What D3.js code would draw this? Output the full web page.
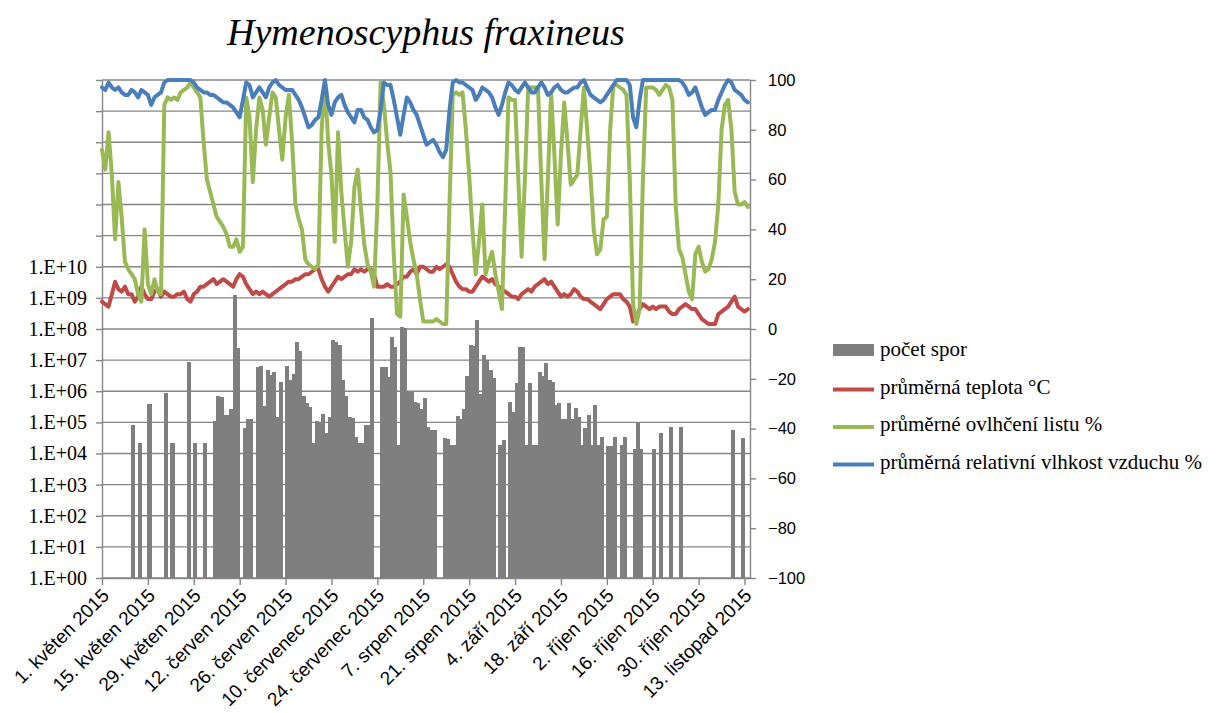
<!DOCTYPE html>
<html><head><meta charset="utf-8">
<script src="https://cdn.jsdelivr.net/npm/d3@7"></script>
<style>body{margin:0;background:#fff}</style>
</head><body><svg id="c" width="1225" height="713"></svg>
<script>
const title = "Hymenoscyphus fraxineus";
// daily data from 1 May 2015 (index 0) to 14 Nov 2015 (index 197)
const spores = [
 0,0,0,0,0,0,0,0,0,8.3e4,
 0,2.2e4,0,0,3.8e5,0,0,0,0,8.5e5,
 0,2.2e4,0,0,0,0,8.5e6,0,2.2e4,0,
 0,2.2e4,0,0,1.1e5,6.8e5,6.5e5,1.7e5,1.7e5,2.6e5,
 1.2e9,2.4e7,0,6.5e4,1.3e5,1.3e5,0,6.2e6,6.3e6,3.4e5,
 4.8e6,3.3e6,4.3e6,1.5e5,2.0e6,0,6.5e6,2.3e6,3.7e6,3.9e7,
 1.9e7,7.1e5,4.3e5,3.2e5,2.2e4,1.1e5,9.3e4,1.9e5,4.7e4,1.5e5,
 4.5e7,3.9e7,3.1e7,2.3e6,6.8e5,1.5e5,1.4e5,3.5e4,2.2e4,2.2e4,
 8.3e4,8.3e4,2.2e8,0,0,6.2e6,6.0e6,2.8e6,5.6e7,2.7e7,
 1.9e4,1.2e8,1.1e8,9.8e5,9.8e5,4.5e5,4.1e5,2.6e5,5.9e5,7.2e4,
 5.8e4,5.8e4,0,0,3.2e4,3.0e4,1.9e4,1.9e4,1.6e5,1.3e5,
 2.6e5,3.0e6,3.1e7,2.8e7,1.9e8,8.1e5,1.5e7,1.0e7,4.8e6,2.6e6,
 0,1.9e4,2.7e4,0,4.6e5,2.2e5,1.8e6,2.6e7,2.6e7,1.9e4,
 1.8e6,1.9e4,1.9e4,4.3e6,3.0e6,7.9e6,2.3e6,2.0e6,3.6e5,4.1e5,
 1.3e5,1.3e5,4.1e5,1.3e5,2.8e5,1.5e5,1.9e4,6.5e4,1.7e5,1.9e4,
 3.6e5,1.9e4,3.5e4,0,1.7e4,1.7e4,3.5e4,0,1.9e4,3.5e4,
 0,0,1.4e4,9.3e4,1.4e4,0,0,0,1.4e4,0,
 4.7e4,0,0,7.2e4,0,0,7.2e4,0,0,0,
 0,0,0,0,0,0,0,0,0,0,
 0,0,5.8e4,0,0,3.2e4,0,0
];
const temperature = [
 11,10,9,14,19,16,15,17,14,14,
 11,13,17,14,12,12,15,16,13,15,
 14,13,13,14,14,15,12,11,14,15,
 17,17,18,19,20,18,19,20,19,18,
 17,20,22,21,18,16,14,15,14,15,
 14,13,14,15,16,17,18,19,19,20,
 20,21,22,22,23,24,24,20,17,15,
 17,19,21,20,21,22,22,24,23,24,
 23,24,24,22,17,17,17,18,17,17,
 18,19,21,21,23,24,22,25,25,24,
 23,23,25,24,25,26,25,22,19,17,
 16,16,15,15,17,19,21,20,19,20,
 18,17,16,15,14,13,13,12,14,15,
 16,15,17,18,19,20,18,19,17,15,
 13,14,13,14,16,15,13,12,12,11,
 10,9,8,10,12,13,14,14,14,12,
 11,9,3,5,8,10,9,8,9,8,
 9,9,9,7,6,6,8,9,10,9,
 8,8,6,4,3,2,2,2,6,7,
 8,9,11,13,9,8,7,8
];
const leafWetness = [
 72,64,79,62,36,59,45,27,24,22,
 20,14,11,40,18,14,20,15,14,90,
 93,92,93,92,95,96,97,99,97,95,
 93,75,60,55,50,45,43,41,38,33,
 33,36,31,33,93,85,59,80,93,88,
 74,85,95,93,80,68,85,94,75,50,
 44,40,28,26,25,24,26,80,99,75,
 62,35,79,55,40,25,35,57,64,48,
 34,26,23,17,50,99,90,75,63,30,
 6,5,54,45,35,28,22,12,3,3,
 3,3,4,3,2,2,50,94,95,94,
 95,80,62,40,22,35,50,22,27,31,
 22,15,8,50,93,92,92,60,29,60,
 97,97,97,97,60,28,60,95,70,42,
 70,91,75,58,60,62,80,97,80,62,
 40,30,32,44,45,80,98,98,97,96,
 94,60,10,2,8,60,97,97,97,96,
 94,96,98,97,92,50,32,29,22,15,
 12,30,33,27,23,24,28,35,50,80,
 90,92,80,55,50,50,51,49
];
const humidity = [
 97,96,99,97,96,97,95,94,94,96,
 95,93,96,95,94,90,93,94,95,99,
 100,100,100,100,100,100,100,100,99,97,
 96,95,95,94,94,93,92,91,91,90,
 89,87,85,92,99,98,93,95,97,95,
 93,97,99,100,98,97,96,96,96,94,
 92,89,85,81,82,84,85,92,100,90,
 86,91,93,94,90,87,85,83,88,88,
 85,84,81,79,80,88,99,98,98,92,
 85,78,86,93,91,88,86,82,78,74,
 75,76,74,71,69,72,88,99,100,99,
 99,98,97,96,92,94,97,96,95,93,
 89,86,90,95,99,98,96,95,97,99,
 97,95,95,97,99,97,94,95,97,98,
 96,95,95,96,97,97,99,100,97,94,
 93,92,91,92,94,96,98,100,100,100,
 100,98,85,81,92,100,100,100,100,100,
 100,100,100,100,100,100,100,99,97,94,
 95,97,93,89,86,87,88,88,92,95,
 98,100,99,96,95,94,92,91
];
const dateTickLabels = ["1. květen 2015","15. květen 2015","29. květen 2015","12. červen 2015","26. červen 2015",
 "10. červenec 2015","24. červenec 2015","7. srpen 2015","21. srpen 2015","4. září 2015","18. září 2015",
 "2. říjen 2015","16. říjen 2015","30. říjen 2015","13. listopad 2015"];
const leftTickLabels = ["1.E+00","1.E+01","1.E+02","1.E+03","1.E+04","1.E+05","1.E+06","1.E+07","1.E+08","1.E+09","1.E+10"];
const rightTicks = [-100,-80,-60,-40,-20,0,20,40,60,80,100];
const legendLabels = ["počet spor","průměrná teplota °C","průměrné ovlhčení listu %","průměrná relativní vlhkost vzduchu %"];
const colors = {bar:"#7f7f7f", temp:"#be4b48", wet:"#98b954", rh:"#4a7ebb", grid:"#868686"};

const DAY = 864e5;
const t0 = Date.UTC(2015,4,1);
const dates = spores.map((_, i) => new Date(t0 + i*DAY));
const M = {left:102, right:750, top:80, bottom:578};

const svg = d3.select("#c");
svg.append("rect").attr("width",1225).attr("height",713).attr("fill","#fff");

const x = d3.scaleUtc().domain([new Date(t0), new Date(t0 + 197.67*DAY)]).range([M.left, M.right]);
const yL = d3.scaleLog().domain([1, 1e16]).range([M.bottom, M.top]);
const yR = d3.scaleLinear().domain([-100, 100]).range([M.bottom, M.top]);
const dayW = x(new Date(t0 + DAY)) - x(new Date(t0));

// gridlines
const decades = d3.range(0, 17).map(k => Math.pow(10, k));
svg.append("g").selectAll("line").data(decades).join("line")
  .attr("x1", M.left).attr("x2", M.right)
  .attr("y1", d => yL(d)).attr("y2", d => yL(d))
  .attr("stroke", colors.grid).attr("stroke-width", 1.4);

// left axis
const gL = svg.append("g").attr("transform", `translate(${M.left},0)`)
  .call(d3.axisLeft(yL).tickValues(decades).tickSize(6).tickSizeOuter(0).tickPadding(9)
    .tickFormat(d => { const k = Math.round(Math.log10(d)); return k <= 10 ? leftTickLabels[k] : ""; }));
gL.selectAll("text").attr("font-family","Liberation Serif").attr("font-size",20).attr("fill","#000");

// right axis
const gR = svg.append("g").attr("transform", `translate(${M.right},0)`)
  .call(d3.axisRight(yR).tickValues(rightTicks).tickSize(6).tickSizeOuter(0).tickPadding(12).tickFormat(d3.format("d")));
gR.selectAll("text").attr("font-family","Liberation Sans").attr("font-size",16.5).attr("fill","#000");

// bottom axis
const tickDates = dateTickLabels.map((_, i) => new Date(t0 + i*14*DAY));
const gB = svg.append("g").attr("transform", `translate(0,${M.bottom})`)
  .call(d3.axisBottom(x).tickValues(tickDates).tickSize(7).tickSizeOuter(0).tickFormat((d, i) => dateTickLabels[i]));
gB.selectAll("text").attr("font-family","Liberation Sans").attr("font-size",19).attr("fill","#000")
  .attr("text-anchor","end").attr("x",0).attr("y",0).attr("dy","0.35em")
  .attr("transform","translate(3,14) rotate(-45)");

[gL, gR, gB].forEach(g => { g.selectAll("path,line").attr("stroke", colors.grid).attr("stroke-width",1.4); });

// bars
const bw = dayW + 0.8;
svg.append("g").attr("shape-rendering","crispEdges").selectAll("rect")
  .data(spores.map((v,i)=>({v, d:dates[i]})).filter(o => o.v > 0)).join("rect")
  .attr("x", o => x(o.d) + (dayW - bw)/2)
  .attr("width", bw)
  .attr("y", o => yL(o.v))
  .attr("height", o => M.bottom - yL(o.v))
  .attr("fill", colors.bar);

// lines
const line = d3.line().x((v, i) => x(dates[i])).y(v => yR(v));
[[temperature, colors.temp], [leafWetness, colors.wet], [humidity, colors.rh]].forEach(([arr, c]) => {
  svg.append("path").datum(arr).attr("d", line).attr("fill","none").attr("stroke", c)
    .attr("stroke-width", 4).attr("stroke-linejoin","round").attr("stroke-linecap","round");
});

// title
svg.append("text").attr("x", 426).attr("y", 45).attr("text-anchor","middle")
  .attr("font-family","Liberation Serif").attr("font-style","italic").attr("font-size",38).text(title);

// legend
const lg = svg.append("g").attr("transform","translate(833,350)");
const legColors = [colors.bar, colors.temp, colors.wet, colors.rh];
legendLabels.forEach((t, i) => {
  const gy = i * 37.5;
  if (i === 0) lg.append("rect").attr("x",0).attr("y",gy-6).attr("width",41).attr("height",12).attr("fill",legColors[i]);
  else lg.append("line").attr("x1",0).attr("x2",41).attr("y1",gy+2).attr("y2",gy+2).attr("stroke",legColors[i]).attr("stroke-width",4);
  lg.append("text").attr("x",47).attr("y",gy).attr("dy","0.3em").attr("font-family","Liberation Serif").attr("font-size",21).text(t);
});
</script></body></html>
